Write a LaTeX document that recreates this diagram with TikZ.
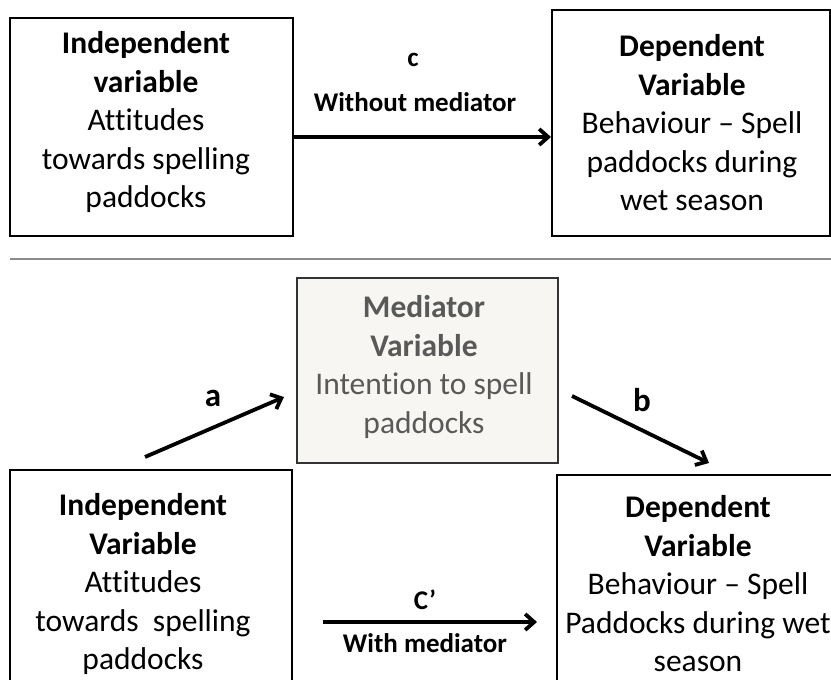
\documentclass[tikz,border=0pt]{standalone}
\usepackage{fontspec}
\setmainfont{Carlito}[Ligatures=NoCommon]
\usetikzlibrary{arrows.meta}
\definecolor{medfill}{HTML}{F7F6F2}
\definecolor{medtext}{HTML}{595959}
\definecolor{medborder}{HTML}{333333}
\definecolor{sepgray}{HTML}{8C8C8C}
\begin{document}
\begin{tikzpicture}[x=1pt,y=-1pt,
  box/.style={draw=black, line width=2pt, inner sep=0pt},
  txt/.style={align=center, font=\fontsize{31.5}{38.5}\selectfont, inner sep=0pt},
  lab/.style={font=\fontsize{27}{30}\selectfont\bfseries, inner sep=0pt},
  biglab/.style={font=\fontsize{33}{38}\selectfont\bfseries, inner sep=0pt},
  conn/.style={line width=3.8pt, -{Straight Barb[length=9pt,width=16pt,line width=3.8pt]}}]
\useasboundingbox (0,0) rectangle (831,680);
\clip (0,0) rectangle (831,680);

% boxes
\node[box, minimum width=283pt, minimum height=218pt] (iv1) at (151.5,127) {};
\node[box, minimum width=278pt, minimum height=226pt] (dv1) at (691,123) {};
\node[box, draw=medborder, fill=medfill, minimum width=261pt, minimum height=185pt] (med) at (427.5,370.5) {};
\node[box, minimum width=282pt, minimum height=230pt] (iv2) at (151,585) {};
\node[box, minimum width=288pt, minimum height=225pt] (dv2) at (701,587.5) {};

% texts
\node[txt] (iv1t) at (146,122) {\textbf{Independent}\\\textbf{variable}\\Attitudes\\towards spelling\\paddocks};
\node[txt] (dv1t) at (692,123) {\textbf{Dependent}\\\textbf{Variable}\\Behaviour – Spell\\paddocks during\\wet season};
\node[txt, text=medtext] (medt) at (424,367) {\textbf{Mediator}\\\textbf{Variable}\\Intention to spell\\paddocks};
\node[txt] (iv2t) at (143,584) {\textbf{Independent}\\\textbf{Variable}\\Attitudes\\towards~~spelling\\paddocks};
\node[txt] (dv2t) at (698,584) {\textbf{Dependent}\\\textbf{Variable}\\Behaviour – Spell\\Paddocks during wet\\season};

% separator
\coordinate (sepL) at (10,259);
\coordinate (sepR) at (831,259);
\draw[sepgray, line width=2.5pt] (sepL) -- (sepR);

% arrow c
\coordinate (cS) at (iv1.east |- 0,137);
\coordinate (cE) at (dv1.west |- 0,137);
\draw[conn] (cS) -- (cE);
\node[lab] (clab) at (413,60) {c};
\node[lab] (cwlab) at (415,102) {Without mediator};

% arrow a
\coordinate (aS) at (145,457);
\coordinate (aE) at (284,397);
\draw[conn] (aS) -- (aE);
\node[biglab] (alab) at (213,398) {a};

% arrow b
\coordinate (bS) at (572,396);
\coordinate (bE) at (709,463);
\draw[conn] (bS) -- (bE);
\node[biglab] (blab) at (642,400) {b};

% arrow c'
\coordinate (dS) at (323,622);
\coordinate (dE) at (537,622);
\draw[conn] (dS) -- (dE);
\node[lab] (dlab) at (425,600) {C’};
\node[lab] (dwlab) at (425,643) {With mediator};
\end{tikzpicture}
\end{document}
